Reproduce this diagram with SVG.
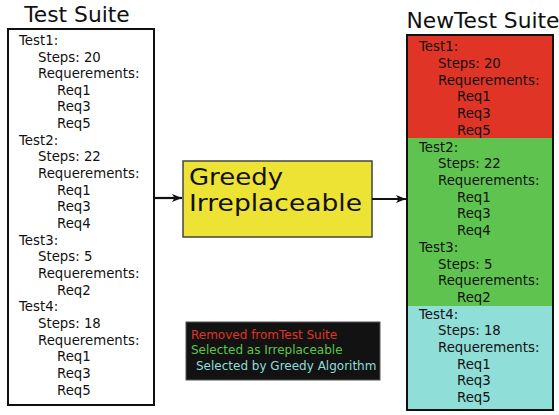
<svg xmlns="http://www.w3.org/2000/svg" width="559" height="415" viewBox="0 0 559 415">
  <defs>
    <marker id="arrow" markerWidth="10" markerHeight="8" refX="10" refY="4" orient="auto" markerUnits="userSpaceOnUse">
      <path d="M0,0 L10,4 L0,8 L2.5,4 Z" fill="#111"/>
    </marker>
    <style>
      text { font-family: "DejaVu Sans", Verdana, sans-serif; }
      .title { font-size: 21.8px; fill: #111; text-anchor: middle; }
      .item { font-size: 13.3px; fill: #111; }
      .box { stroke: #111; stroke-width: 2; }
      .edge { stroke: #111; stroke-width: 2.2; fill: none; marker-end: url(#arrow); }
      .legend { font-size: 12px; }
      .algo { font-size: 22.5px; fill: #111; }
    </style>
  </defs>

  <rect width="559" height="415" fill="#fff"/>

  <!-- original suite -->
  <g id="test-suite">
    <text class="title" x="77" y="22">Test Suite</text>
    <rect class="box" x="8" y="29" width="146" height="376" fill="#fff"/>
    <g class="item">
      <text x="19" y="45">Test1:</text>
      <text x="38" y="62">Steps: 20</text>
      <text x="38" y="78">Requerements:</text>
      <text x="57" y="95">Req1</text>
      <text x="57" y="111">Req3</text>
      <text x="57" y="128">Req5</text>
      <text x="19" y="145">Test2:</text>
      <text x="38" y="161">Steps: 22</text>
      <text x="38" y="178">Requerements:</text>
      <text x="57" y="195">Req1</text>
      <text x="57" y="211">Req3</text>
      <text x="57" y="228">Req4</text>
      <text x="19" y="245">Test3:</text>
      <text x="38" y="261">Steps: 5</text>
      <text x="38" y="278">Requerements:</text>
      <text x="57" y="295">Req2</text>
      <text x="19" y="311">Test4:</text>
      <text x="38" y="328">Steps: 18</text>
      <text x="38" y="345">Requerements:</text>
      <text x="57" y="361">Req1</text>
      <text x="57" y="378">Req3</text>
      <text x="57" y="395">Req5</text>
    </g>
  </g>

  <!-- algorithm -->
  <g id="greedy">
    <rect x="183" y="161" width="189" height="76" fill="#ede334" stroke="#444" stroke-width="1.5"/>
    <text class="algo" x="189" y="185" textLength="94" lengthAdjust="spacingAndGlyphs">Greedy</text>
    <text class="algo" x="189" y="211" textLength="173" lengthAdjust="spacingAndGlyphs">Irreplaceable</text>
  </g>

  <!-- reduced suite -->
  <g id="new-test-suite">
    <text class="title" x="483" y="28">NewTest Suite</text>
    <rect x="407" y="35" width="146" height="103" fill="#e03426"/>
    <rect x="407" y="138" width="146" height="168" fill="#5ec44f"/>
    <rect x="407" y="306" width="146" height="104" fill="#8fded8"/>
    <rect class="box" x="407" y="35" width="146" height="375" fill="none"/>
    <g class="item">
      <text x="419" y="51">Test1:</text>
      <text x="438" y="68">Steps: 20</text>
      <text x="438" y="85">Requerements:</text>
      <text x="457" y="101">Req1</text>
      <text x="457" y="118">Req3</text>
      <text x="457" y="135">Req5</text>
      <text x="419" y="152">Test2:</text>
      <text x="438" y="168">Steps: 22</text>
      <text x="438" y="185">Requerements:</text>
      <text x="457" y="202">Req1</text>
      <text x="457" y="218">Req3</text>
      <text x="457" y="235">Req4</text>
      <text x="419" y="252">Test3:</text>
      <text x="438" y="269">Steps: 5</text>
      <text x="438" y="285">Requerements:</text>
      <text x="457" y="302">Req2</text>
      <text x="419" y="319">Test4:</text>
      <text x="438" y="335">Steps: 18</text>
      <text x="438" y="352">Requerements:</text>
      <text x="457" y="369">Req1</text>
      <text x="457" y="385">Req3</text>
      <text x="457" y="402">Req5</text>
    </g>
  </g>

  <!-- legend -->
  <g id="legend">
    <rect x="186" y="322" width="194" height="58" fill="#121212" stroke="#555" stroke-width="1"/>
    <text class="legend" x="191" y="339" fill="#e03426">Removed fromTest Suite</text>
    <text class="legend" x="191" y="354" fill="#5ec44f">Selected as Irreplaceable</text>
    <text class="legend" x="196" y="370" fill="#8fded8">Selected by Greedy Algorithm</text>
  </g>

  <g id="connectors">
    <line class="edge" x1="155" y1="198" x2="182" y2="198"/>
    <line class="edge" x1="372" y1="199" x2="406" y2="199"/>
  </g>
</svg>
